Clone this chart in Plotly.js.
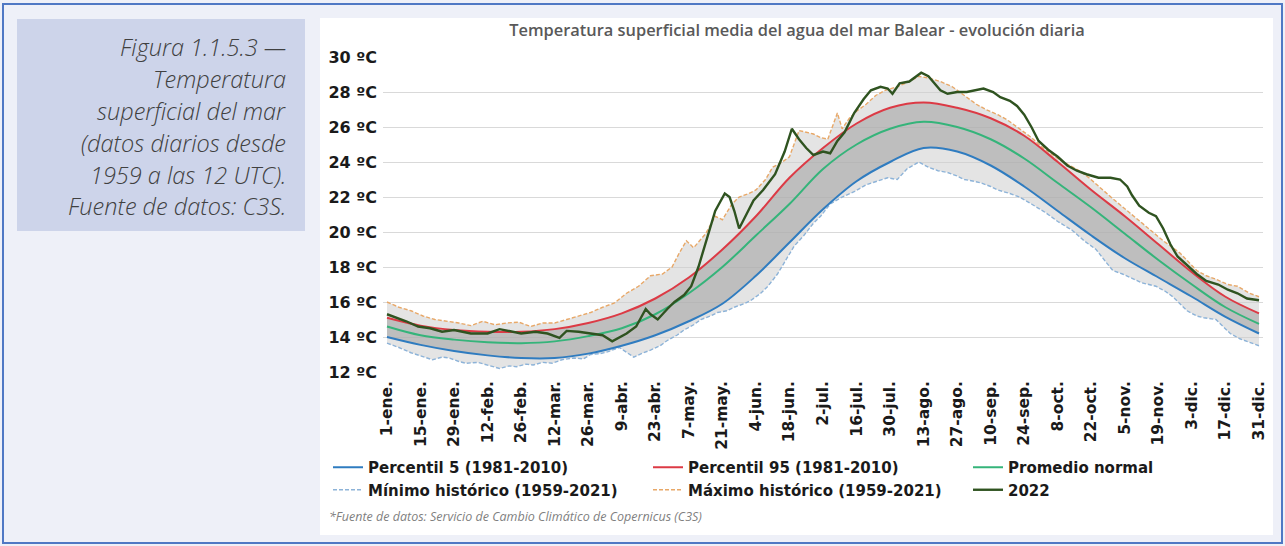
<!DOCTYPE html>
<html><head><meta charset="utf-8">
<script src="https://cdn.plot.ly/plotly-3.0.1.min.js"></script>
<style>html,body{margin:0;padding:0;background:#eef0f8;}#chart{width:1285px;height:546px;}</style>
</head><body><div id="chart"></div>
<script>
// ---------- DATA ----------
const tickDays = [0,14,28,42,56,70,84,98,112,126,140,154,168,182,196,210,224,238,252,266,280,294,308,322,336,350,364];
const tickLabels = ['1-ene.','15-ene.','29-ene.','12-feb.','26-feb.','12-mar.','26-mar.','9-abr.','23-abr.','7-may.','21-may.','4-jun.','18-jun.','2-jul.','16-jul.','30-jul.','13-ago.','27-ago.','10-sep.','24-sep.','8-oct.','22-oct.','5-nov.','19-nov.','3-dic.','17-dic.','31-dic.'];
const yTicks = [12,14,16,18,20,22,24,26,28,30];
const yTickLabels = ['12 ºC','14 ºC','16 ºC','18 ºC','20 ºC','22 ºC','24 ºC','26 ºC','28 ºC','30 ºC'];

// smooth curves, values at the tick days
const percentil5 = [14.0,13.55,13.2,12.95,12.8,12.8,13.05,13.5,14.1,14.9,15.9,17.5,19.4,21.3,22.9,24.0,24.8,24.6,23.8,22.6,21.2,19.8,18.5,17.4,16.3,15.15,14.2];
const percentil95 = [15.1,14.65,14.4,14.3,14.3,14.45,14.8,15.35,16.2,17.4,19.0,20.9,23.1,24.8,26.2,27.1,27.4,27.1,26.5,25.5,24.0,22.4,20.9,19.3,17.7,16.3,15.35];
const promedio = [14.6,14.1,13.85,13.7,13.65,13.75,14.05,14.5,15.3,16.5,18.0,19.8,21.6,23.6,25.0,25.9,26.3,26.0,25.3,24.2,22.8,21.4,19.9,18.4,17.0,15.7,14.75];

const minDays = [0,5,10,15,19,23,26,30,33,38,42,47,51,54,58,61,65,69,73,78,82,85,89,92,97,100,103,107,110,114,117,121,124,128,131,135,138,142,145,149,152,156,159,163,167,170,174,178,181,185,190,195,200,205,209,213,217,222,226,230,234,238,241,245,248,252,255,260,264,269,275,280,286,291,296,300,303,307,310,315,321,325,328,331,334,338,341,346,349,352,356,360,364];
const minVals = [13.65,13.4,13.1,12.9,12.7,12.85,12.8,12.6,12.5,12.55,12.4,12.2,12.35,12.3,12.45,12.4,12.55,12.5,12.7,12.8,12.75,13.0,13.05,13.15,13.4,13.1,12.85,13.1,13.25,13.5,13.8,14.1,14.4,14.7,15.0,15.2,15.4,15.5,15.7,15.9,16.1,16.5,16.9,17.6,18.5,19.2,19.8,20.5,20.9,21.6,22.0,22.3,22.7,22.9,23.1,23.0,23.6,24.0,23.7,23.5,23.4,23.2,23.0,22.9,22.8,22.6,22.4,22.2,22.0,21.6,21.1,20.6,20.1,19.5,19.0,18.3,17.8,17.6,17.4,17.1,16.9,16.6,16.3,15.9,15.5,15.2,15.1,15.0,14.6,14.2,13.9,13.7,13.5];

const maxDays = [0,5,10,15,20,25,30,35,40,45,50,55,60,65,70,75,80,85,90,95,100,105,110,115,119,122,125,128,133,137,140,144,147,151,154,158,161,165,168,172,175,178,181,184,188,190,193,196,200,204,208,213,218,222,226,231,236,242,246,250,255,259,265,269,273,277,281,285,289,293,297,303,310,317,324,331,338,342,346,351,355,360,364];
const maxVals = [16.0,15.7,15.5,15.2,15.0,14.9,14.8,14.65,14.9,14.7,14.8,14.85,14.6,14.8,14.8,15.0,15.2,15.4,15.7,15.95,16.5,16.9,17.5,17.6,18.0,18.8,19.5,19.1,19.9,20.9,20.7,21.6,22.0,22.2,22.4,23.0,23.7,24.0,24.3,25.8,25.7,25.6,25.4,25.3,26.8,25.9,26.5,26.9,27.3,27.8,28.1,28.3,28.6,28.9,28.8,28.6,28.3,27.7,27.3,27.0,26.7,26.4,25.8,25.4,24.9,24.5,24.1,23.8,23.5,23.1,22.6,21.9,21.1,20.3,19.5,18.8,17.8,17.5,17.3,17.0,16.9,16.5,16.3];

const days2022 = [0,4,8,13,18,23,28,35,42,47,52,56,62,67,72,75,80,85,90,94,100,104,108,110,113,117,120,124,127,130,134,137,141,143,145,147,150,153,157,162,166,169,172,175,178,182,185,188,191,195,199,202,206,209,211,214,218,221,223,226,229,231,234,238,242,246,249,253,256,260,263,266,269,272,276,280,284,288,292,297,302,306,309,311,314,318,321,324,327,330,334,338,342,347,351,355,359,364];
const vals2022 = [15.3,15.1,14.9,14.6,14.5,14.3,14.4,14.2,14.2,14.45,14.3,14.2,14.3,14.2,13.95,14.35,14.3,14.2,14.1,13.75,14.2,14.6,15.6,15.3,15.0,15.6,16.0,16.4,16.9,18.0,19.8,21.2,22.2,22.0,21.2,20.2,21.0,21.8,22.4,23.3,24.6,25.9,25.3,24.8,24.4,24.6,24.5,25.2,25.7,26.8,27.6,28.1,28.3,28.2,27.9,28.5,28.6,28.9,29.1,28.9,28.4,28.1,27.9,28.0,28.0,28.1,28.2,28.0,27.7,27.5,27.2,26.7,26.0,25.2,24.7,24.3,23.8,23.5,23.3,23.1,23.1,23.0,22.6,22.1,21.5,21.1,20.9,20.2,19.3,18.6,18.1,17.6,17.2,17.0,16.7,16.5,16.2,16.1];

const legendNames = ['Percentil 5 (1981-2010)','Percentil 95 (1981-2010)','Promedio normal','Mínimo histórico (1959-2021)','Máximo histórico (1959-2021)','2022'];
const captionLines = ['Figura 1.1.5.3 —','Temperatura','superficial del mar','(datos diarios desde','1959 a las 12 UTC).','Fuente de datos: C3S.'];
const chartTitle = 'Temperatura superficial media del agua del mar Balear - evolución diaria';
const footnote = '*Fuente de datos: Servicio de Cambio Climático de Copernicus (C3S)';

// ---------- LAYOUT GEOMETRY ----------
const W = 1285, H = 546;
const ML = 383, PW = 880, MT = 57, PH = 315;
const MR = W - ML - PW, MB = H - MT - PH;
const X = px => (px - ML) / PW;
const Y = py => (MT + PH - py) / PH;

const traces = [
  // gray envelope (historical spread)
  {x: minDays, y: minVals, mode: 'lines', line: {width: 0, color: 'rgba(0,0,0,0)'}, showlegend: false, hoverinfo: 'skip'},
  {x: maxDays, y: maxVals, mode: 'lines', line: {width: 0, color: 'rgba(0,0,0,0)'}, fill: 'tonexty', fillcolor: 'rgba(205,205,205,0.55)', showlegend: false, hoverinfo: 'skip'},
  {x: tickDays, y: percentil5, mode: 'lines', line: {width: 0, shape: 'spline', color: 'rgba(0,0,0,0)'}, showlegend: false, hoverinfo: 'skip'},
  {x: tickDays, y: percentil95, mode: 'lines', line: {width: 0, shape: 'spline', color: 'rgba(0,0,0,0)'}, fill: 'tonexty', fillcolor: 'rgba(165,165,165,0.6)', showlegend: false, hoverinfo: 'skip'},
  // visible series
  {name: legendNames[3], x: minDays, y: minVals, mode: 'lines', line: {color: '#8db3d8', width: 1.4, dash: '4px,2px'}, legend: 'legend', legendrank: 2},
  {name: legendNames[4], x: maxDays, y: maxVals, mode: 'lines', line: {color: '#e8a868', width: 1.4, dash: '4px,2px'}, legend: 'legend2', legendrank: 2},
  {name: legendNames[0], x: tickDays, y: percentil5, mode: 'lines', line: {color: '#2f7cc0', width: 2, shape: 'spline'}, legend: 'legend', legendrank: 1},
  {name: legendNames[1], x: tickDays, y: percentil95, mode: 'lines', line: {color: '#dc3a45', width: 2, shape: 'spline'}, legend: 'legend2', legendrank: 1},
  {name: legendNames[2], x: tickDays, y: promedio, mode: 'lines', line: {color: '#35b47a', width: 2, shape: 'spline'}, legend: 'legend3', legendrank: 1},
  {name: legendNames[5], x: days2022, y: vals2022, mode: 'lines', line: {color: '#2f5320', width: 2.4}, legend: 'legend3', legendrank: 2}
];

const legFont = {family: 'DejaVu Sans', size: 15, color: '#1a1a1a', weight: 'bold'};
function leg(px) {
  return {x: X(px), xanchor: 'left', y: Y(451), yanchor: 'top', orientation: 'v', font: legFont, bgcolor: 'rgba(0,0,0,0)', borderwidth: 0, tracegroupgap: 0, traceorder: 'normal'};
}

const annotations = captionLines.map((t, i) => ({
  text: t, xref: 'paper', yref: 'paper', x: X(288), y: Y([47, 79, 111, 143, 175, 206][i]),
  xanchor: 'right', yanchor: 'middle', showarrow: false,
  font: {family: 'Open Sans', size: 23.5, color: '#404040', style: 'italic', weight: 300}
}));
annotations.push({
  text: footnote, xref: 'paper', yref: 'paper', x: X(327), y: Y(516), xanchor: 'left', yanchor: 'middle',
  showarrow: false, font: {family: 'Open Sans', size: 12.5, color: '#7f7f7f', style: 'italic'}
});

const layout = {
  width: W, height: H,
  margin: {l: ML, r: MR, t: MT, b: MB, pad: 0},
  paper_bgcolor: '#eef0f8', plot_bgcolor: 'rgba(0,0,0,0)',
  title: {text: chartTitle, x: 797 / W, xref: 'container', xanchor: 'center', y: 1 - 30 / H, yref: 'container', yanchor: 'middle',
    font: {family: 'Open Sans', size: 16.4, color: '#595959', weight: 600}},
  xaxis: {range: [-4 / 2.3956, 364 + 4 / 2.3956], tickmode: 'array', tickvals: tickDays, ticktext: tickLabels, tickangle: -90,
    showgrid: false, zeroline: false, showline: false, ticks: '', ticklabelstandoff: 5,
    tickfont: {family: 'DejaVu Sans', size: 15.5, color: '#1a1a1a', weight: 'bold'}},
  yaxis: {range: [12, 30], tickmode: 'array', tickvals: yTicks, ticktext: yTickLabels,
    showgrid: true, gridcolor: '#d9d9d9', gridwidth: 1, zeroline: false, showline: false, ticks: '', ticklabelstandoff: 5,
    tickfont: {family: 'DejaVu Sans', size: 16, color: '#1a1a1a', weight: 'bold'}},
  legend: leg(328), legend2: leg(648), legend3: leg(968),
  showlegend: true,
  annotations: annotations,
  shapes: [
    {type: 'rect', xref: 'paper', yref: 'paper', x0: X(320), x1: X(1273), y0: Y(535), y1: Y(18), fillcolor: '#ffffff', line: {width: 0}, layer: 'below'},
    {type: 'rect', xref: 'paper', yref: 'paper', x0: X(17), x1: X(305), y0: Y(231), y1: Y(19), fillcolor: '#cdd4ea', line: {width: 0}, layer: 'below'},
    {type: 'rect', xref: 'paper', yref: 'paper', x0: X(3), x1: X(1282), y0: Y(543), y1: Y(4), fillcolor: 'rgba(0,0,0,0)', line: {width: 2, color: '#4f78c4'}, layer: 'below'}
  ]
};

Plotly.newPlot('chart', traces, layout, {displayModeBar: false, staticPlot: true});
</script></body></html>
